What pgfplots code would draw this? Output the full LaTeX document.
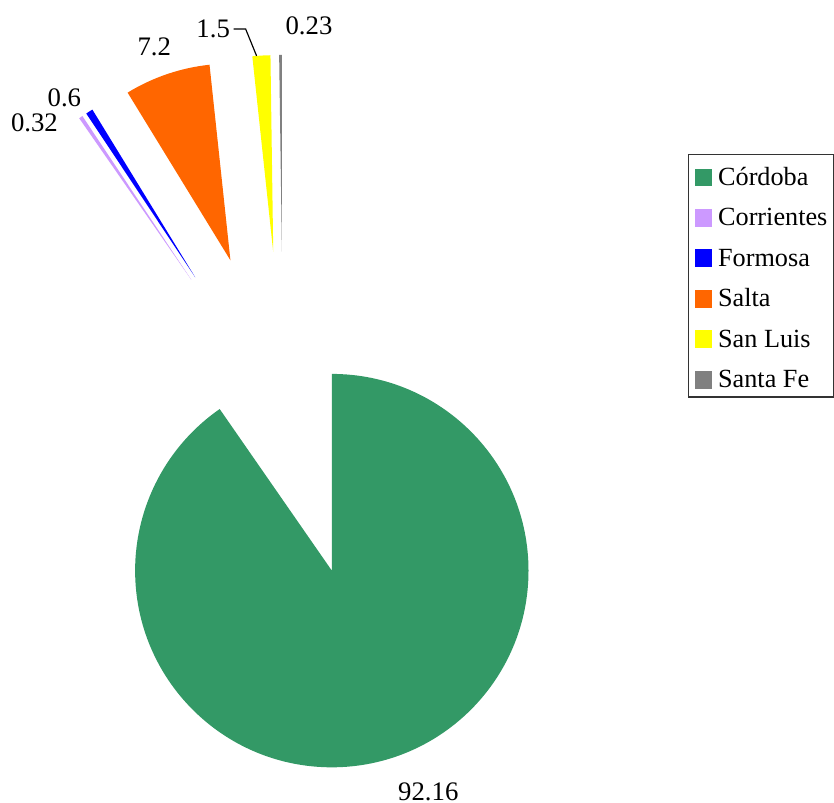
\documentclass[border=0pt]{standalone}
\usepackage{pgfplots}
\usepackage{pgfplotstable}
\usepackage{fontspec}
\setmainfont{Liberation Serif}
\pgfplotsset{compat=1.18}

\definecolor{cCordoba}{HTML}{339966}
\definecolor{cCorrientes}{HTML}{CC99FF}
\definecolor{cFormosa}{HTML}{0000FF}
\definecolor{cSalta}{HTML}{FF6600}
\definecolor{cSanLuis}{HTML}{FFFF00}
\definecolor{cSantaFe}{HTML}{808080}

% share of each province; lx, ly place the value labels
\pgfplotstableread[col sep=comma]{
name,value,colour,lx,ly
Córdoba,92.16,cCordoba,429,11
Corrientes,0.32,cCorrientes,34.5,681
Formosa,0.6,cFormosa,64.5,706.5
Salta,7.2,cSalta,154.5,757
San Luis,1.5,cSanLuis,213.5,775
Santa Fe,0.23,cSantaFe,309.5,778
}\pietable

% pie geometry (axis units)
\def\piecx{283.5}
\def\piecy{388.5}
\def\pier{197}
\def\pieexplode{163.5}
\def\pieunit{0.3846pt}

\begin{document}
\begin{tikzpicture}
\begin{axis}[
  x=\pieunit, y=\pieunit,
  xmin=0, xmax=834, ymin=0, ymax=804,
  hide axis, clip=false,
  legend image code/.code={\fill[#1, draw=none] (0pt,-4.55pt) rectangle (6.9pt,2.35pt);},
  legend cell align=left,
  legend style={at={(axis cs:689,650)}, anchor=north west,
    draw=black!80, line width=0.5pt,
    inner xsep=2.3pt, inner ysep=2.9pt,
    row sep=5.78pt, column sep=2.2pt,
    nodes={inner sep=0pt, text height=9.1pt, text depth=0.7pt},
    font=\fontsize{10.1pt}{12pt}\selectfont},
]
\path (axis cs:0,0) rectangle (axis cs:834,804);

\addlegendimage{fill=cCordoba}\addlegendentry{Córdoba}
\addlegendimage{fill=cCorrientes}\addlegendentry{Corrientes}
\addlegendimage{fill=cFormosa}\addlegendentry{Formosa}
\addlegendimage{fill=cSalta}\addlegendentry{Salta}
\addlegendimage{fill=cSanLuis}\addlegendentry{San Luis}
\addlegendimage{fill=cSantaFe}\addlegendentry{Santa Fe}

\pgfplotsextra{
  \xdef\pietotal{0}
  \pgfplotstableforeachcolumnelement{value}\of\pietable\as\v{%
    \pgfmathparse{\pietotal+\v}\xdef\pietotal{\pgfmathresult}}
  \xdef\curangle{90}
  \pgfmathsetlengthmacro\rlen{\pier*\pieunit}
  \foreach \i in {0,...,5}{
    \pgfplotstablegetelem{\i}{value}\of\pietable \let\val\pgfplotsretval
    \pgfplotstablegetelem{\i}{colour}\of\pietable \let\col\pgfplotsretval
    \pgfplotstablegetelem{\i}{lx}\of\pietable \let\lx\pgfplotsretval
    \pgfplotstablegetelem{\i}{ly}\of\pietable \let\ly\pgfplotsretval
    \pgfmathsetmacro\sweep{\val/\pietotal*360}
    \pgfmathsetmacro\aend{\curangle-\sweep}
    \pgfmathsetmacro\amid{\curangle-\sweep/2}
    \pgfmathsetmacro\tx{\piecx+\pieexplode*cos(\amid)}
    \pgfmathsetmacro\ty{\piecy+\pieexplode*sin(\amid)}
    \fill[fill=\col] (axis cs:\tx,\ty) -- ++(\curangle:\rlen)
      arc[start angle=\curangle, end angle=\aend, radius=\rlen] -- cycle;
    \node[font=\fontsize{10.3pt}{12pt}\selectfont, inner sep=0pt]
      at (axis cs:\lx,\ly) {\val};
    \xdef\curangle{\aend}
  }
  % leader line of the San Luis label
  \draw[line width=0.45pt] (axis cs:234,775) -- (axis cs:246,775) -- (axis cs:257,748);
}
\end{axis}
\end{tikzpicture}
\end{document}
